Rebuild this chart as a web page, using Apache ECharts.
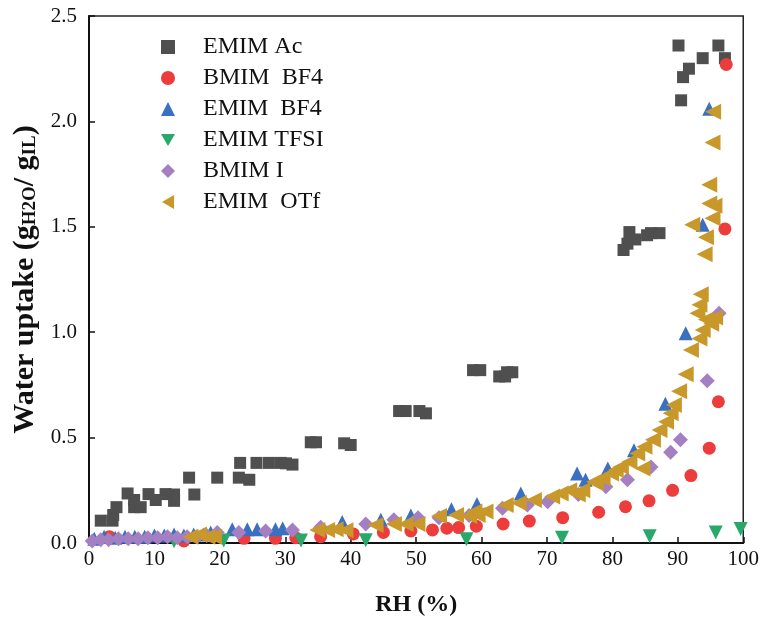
<!DOCTYPE html>
<html>
<head>
<meta charset="utf-8">
<script src="https://cdn.jsdelivr.net/npm/echarts@6/dist/echarts.min.js"></script>
<style>
  html, body { margin: 0; padding: 0; background: #fff; }
  #chart { width: 762px; height: 624px; }
</style>
</head>
<body>
<div id="chart"></div>
<script>
// [RH %, water uptake g/g]
const emimAc = [
  [1.8, 0.106], [3.6, 0.106], [3.7, 0.133], [4.2, 0.17], [5.9, 0.235], [6.9, 0.204], [6.9, 0.17], [7.9, 0.17],
  [9.1, 0.232], [10.2, 0.204], [11.7, 0.232], [13, 0.23], [13, 0.2], [15.3, 0.31], [16.1, 0.23], [19.6, 0.31],
  [22.9, 0.31], [24.5, 0.3], [23.1, 0.38], [25.6, 0.38], [27.5, 0.38], [29.3, 0.38], [30.1, 0.378], [31.1, 0.372],
  [33.9, 0.478], [34.7, 0.478], [39, 0.473], [40, 0.465], [47.4, 0.626], [48.4, 0.626], [50.5, 0.626], [51.5, 0.615],
  [58.7, 0.82], [59.8, 0.82], [62.7, 0.79], [63.6, 0.79], [63.9, 0.81], [64.7, 0.81],
  [81.7, 1.39], [82.3, 1.42], [82.6, 1.475], [83.5, 1.44], [85.3, 1.46], [85.9, 1.47], [87.2, 1.47],
  [90.1, 2.36], [90.5, 2.1], [90.8, 2.21], [91.7, 2.25], [93.8, 2.3], [96.2, 2.36], [97.2, 2.3]
]
const bmimBF4 = [
  [3.1, 0.03], [14.5, 0.01], [23.7, 0.022], [28.5, 0.022], [31.6, 0.025], [35.4, 0.03], [40.4, 0.043], [45, 0.05],
  [49.2, 0.057], [52.5, 0.062], [54.7, 0.07], [56.5, 0.073], [59.2, 0.08], [63.3, 0.09], [67.3, 0.104], [72.4, 0.12],
  [77.9, 0.146], [82, 0.172], [85.6, 0.2], [89.2, 0.25], [92, 0.32], [94.8, 0.45], [96.2, 0.67], [97.2, 1.49], [97.4, 2.27]
]
const emimBF4 = [
  [0.8, 0.02], [2.3, 0.03], [4, 0.025], [5.5, 0.03], [7, 0.03], [8.5, 0.03], [10, 0.035], [11.5, 0.035],
  [13, 0.04], [14.5, 0.035], [16, 0.04], [17.5, 0.04], [18.6, 0.05], [21.9, 0.065], [24.2, 0.065], [25.7, 0.065],
  [28.5, 0.065], [29.6, 0.07], [38.7, 0.1], [44.6, 0.11], [49.2, 0.13], [55.4, 0.16], [59.3, 0.185], [66, 0.235],
  [74.6, 0.33], [75.9, 0.3], [79.3, 0.354], [83.3, 0.44], [88.1, 0.66], [91.2, 0.995], [93.8, 1.51], [94.8, 2.06]
]
const emimTFSI = [
  [13, 0.008], [20.6, 0.012], [32.4, 0.012], [42.3, 0.013], [57.7, 0.018], [72.3, 0.025], [85.7, 0.032], [95.8, 0.05], [99.6, 0.066]
]
const bmimI = [
  [0.5, 0.01], [1.8, 0.015], [3, 0.015], [4.5, 0.02], [6, 0.02], [7.5, 0.02], [9, 0.025], [10.5, 0.025],
  [12, 0.03], [13.5, 0.025], [15, 0.03], [16.5, 0.03], [18, 0.035], [19.6, 0.05], [22.9, 0.05], [27, 0.057],
  [31.1, 0.062], [35.4, 0.075], [42.3, 0.09], [46.6, 0.11], [50.3, 0.12], [53.5, 0.12], [58.1, 0.13], [63.2, 0.165],
  [67, 0.18], [70.1, 0.196], [74.8, 0.23], [79, 0.267], [82.3, 0.3], [85.9, 0.36], [88.9, 0.43], [90.4, 0.49],
  [94.5, 0.77], [96.3, 1.09]
]
const emimOTf = [
  [15.5, 0.03], [16.8, 0.04], [18.1, 0.03], [19.1, 0.03], [34.9, 0.062], [36.4, 0.062], [37.7, 0.065], [39.2, 0.06],
  [43.8, 0.085], [46.6, 0.09], [48.4, 0.09], [50.2, 0.09], [53.5, 0.128], [56.1, 0.133], [58.1, 0.128], [59.4, 0.133],
  [58.9, 0.15], [60.6, 0.15], [63.7, 0.18], [65.7, 0.19], [68, 0.204], [70.8, 0.22], [72.1, 0.235], [73.4, 0.25],
  [74.7, 0.23], [75.4, 0.25], [77.2, 0.29], [77.5, 0.283], [78.5, 0.307], [79.8, 0.33], [80.5, 0.346], [81.3, 0.362],
  [82.6, 0.386], [83.8, 0.425], [84.6, 0.354], [84.9, 0.457], [86.2, 0.49], [87.2, 0.536], [88.2, 0.575], [88.9, 0.615],
  [89.4, 0.655], [90.2, 0.72], [91.2, 0.8], [92, 0.915], [93.3, 0.97], [93.8, 1.01], [93, 1.09], [93.3, 1.13],
  [93.5, 1.18], [94.3, 1.06], [95.1, 1.04], [95.7, 1.07], [94.1, 1.37], [94.3, 1.45], [92.2, 1.51], [95.3, 1.54],
  [94.8, 1.61], [95.6, 1.6], [94.8, 1.7], [95.3, 1.9], [95.4, 2.046]
]

const serif = '"Liberation Serif", "DejaVu Serif", serif'
const triDown = 'path://M0,0 L10,0 L5,8.66 Z'
const triLeft = 'path://M8.66,0 L8.66,10 L0,5 Z'

const mk = (name, data, symbol, size, color, rotate) => ({
  name: name,
  type: 'scatter',
  data: data,
  symbol: symbol,
  symbolSize: size,
  symbolRotate: rotate || 0,
  itemStyle: { color: color, opacity: 1 },
  emphasis: { disabled: true }
})

const options = {
  animation: false,
  backgroundColor: '#fff',
  grid: {
    left: 89, right: 17, top: 16, bottom: 81,
    show: true, borderColor: '#222', borderWidth: 1.5
  },
  legend: {
    orient: 'vertical',
    left: 156, top: 30,
    itemWidth: 14, itemHeight: 14,
    itemGap: 7,
    textStyle: { fontFamily: serif, fontSize: 24, color: '#111', padding: [0, 0, 0, 23] },
    data: [
      { name: 'EMIM Ac', icon: 'rect' },
      { name: 'BMIM  BF4', icon: 'circle' },
      { name: 'EMIM  BF4', icon: 'triangle' },
      { name: 'EMIM TFSI', icon: triDown },
      { name: 'BMIM I', icon: 'diamond' },
      { name: 'EMIM  OTf', icon: triLeft }
    ]
  },
  xAxis: {
    type: 'value', min: 0, max: 100, interval: 10,
    name: 'RH (%)', nameLocation: 'middle', nameGap: 50,
    nameTextStyle: { fontFamily: serif, fontSize: 24, fontWeight: 'bold', color: '#111' },
    axisLine: { onZero: false, lineStyle: { color: '#111', width: 2 } },
    axisTick: { inside: true, length: 6, lineStyle: { color: '#111', width: 1.5 } },
    axisLabel: { fontFamily: serif, fontSize: 21, color: '#111', margin: 6 },
    splitLine: { show: false }
  },
  yAxis: {
    type: 'value', min: 0, max: 2.5, interval: 0.5,
    name: '{b|Water uptake (g}{s|H2O}{b|/ g}{s|IL}{b|)}',
    nameLocation: 'middle', nameGap: 48, nameRotate: 90,
    nameTextStyle: {
      rich: {
        b: { fontFamily: serif, fontSize: 30, fontWeight: 'bold', color: '#111', lineHeight: 32, verticalAlign: 'bottom' },
        s: { fontFamily: serif, fontSize: 19, fontWeight: 'bold', color: '#111', lineHeight: 32, verticalAlign: 'bottom', padding: [10, 0, 0, 0] }
      }
    },
    axisLine: { onZero: false, lineStyle: { color: '#111', width: 2 } },
    axisTick: { inside: true, length: 6, lineStyle: { color: '#111', width: 1.5 } },
    axisLabel: { fontFamily: serif, fontSize: 21, color: '#111', margin: 12, formatter: v => v.toFixed(1) },
    splitLine: { show: false }
  },
  series: [
    mk('EMIM Ac', emimAc, 'rect', 12, '#4f4f4f'),
    mk('BMIM  BF4', bmimBF4, 'circle', 13, '#ec3c3c'),
    mk('EMIM  BF4', emimBF4, 'triangle', 14, '#3b6fbf'),
    mk('EMIM TFSI', emimTFSI, 'triangle', 14, '#2aa86a', 180),
    mk('BMIM I', bmimI, 'diamond', 15, '#a47fc2'),
    mk('EMIM  OTf', emimOTf, 'triangle', 16, '#c9982b', 90)
  ]
}

let chart = echarts.init(document.getElementById('chart'))
chart.setOption(options)
</script>
</body>
</html>
